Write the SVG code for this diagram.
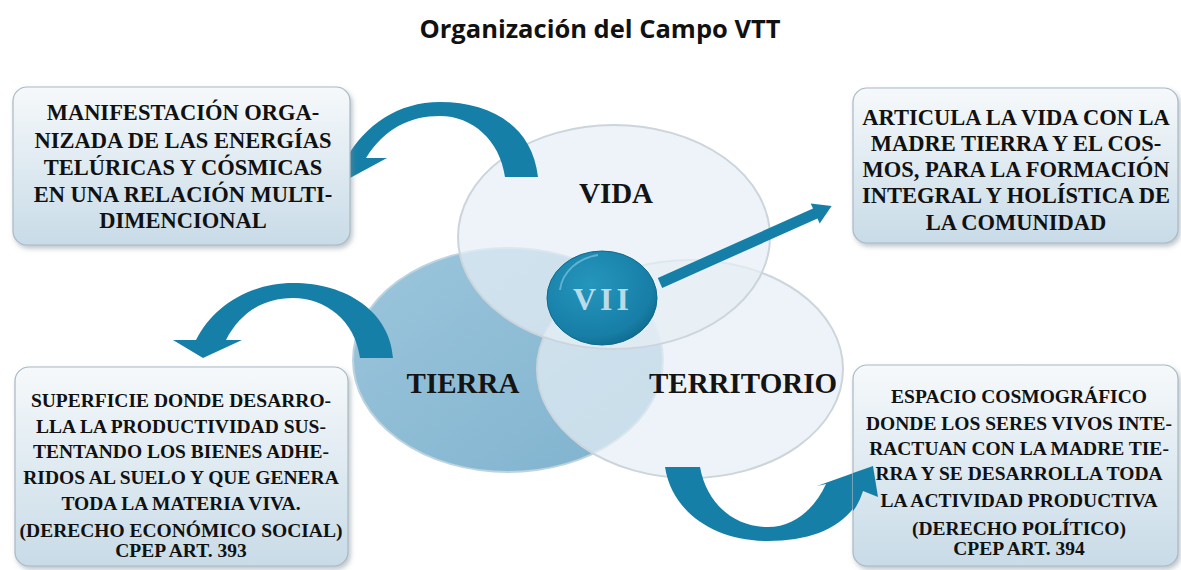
<svg xmlns="http://www.w3.org/2000/svg" width="1181" height="570" viewBox="0 0 1181 570">
<style>
.title{font-family:"Open Sans","Liberation Sans",sans-serif;font-weight:bold;font-size:25.5px;fill:#111;text-anchor:middle}
.bt{font-family:"Liberation Serif","DejaVu Serif",serif;font-weight:bold;fill:#111;text-anchor:middle}
.big{font-size:22.5px}
.small{font-size:19.5px}
.lab{font-family:"Liberation Serif","DejaVu Serif",serif;font-weight:bold;font-size:29px;fill:#141414;text-anchor:middle}
.box{fill:url(#boxg);stroke:#a9bac5;stroke-width:1.2;filter:url(#sh)}
.arrow{fill:#167fa7}
.light{fill:#e6eff5;fill-opacity:0.72;stroke:#ccd5db;stroke-width:2}
</style>
<defs>
<linearGradient id="boxg" x1="0" y1="0" x2="0" y2="1">
<stop offset="0" stop-color="#f6f9fb"/>
<stop offset="1" stop-color="#c8dbe7"/>
</linearGradient>
<linearGradient id="tierg" x1="0" y1="0" x2="1" y2="1">
<stop offset="0" stop-color="#9cc6dc"/>
<stop offset="1" stop-color="#7fb2ce"/>
</linearGradient>
<radialGradient id="cg" cx="0.4" cy="0.35" r="0.7">
<stop offset="0" stop-color="#2596bd"/>
<stop offset="0.8" stop-color="#177ea6"/>
<stop offset="1" stop-color="#0f6a8e"/>
</radialGradient>
<filter id="sh" x="-10%" y="-10%" width="125%" height="125%">
<feDropShadow dx="2" dy="3" stdDeviation="2.5" flood-color="#7d8b94" flood-opacity="0.5"/>
</filter>
</defs>
<rect width="1181" height="570" fill="#ffffff"/>
<text class="title" x="600" y="38">Organización del Campo VTT</text>

<g id="tierra">
<ellipse cx="508" cy="360" rx="155" ry="112" fill="url(#tierg)" stroke="#bcd3e0" stroke-width="2"/>
</g>
<g id="territorio">
<ellipse class="light" cx="690" cy="369" rx="153" ry="109"/>
</g>
<g id="vida">
<ellipse class="light" cx="614" cy="237" rx="156" ry="112"/>
</g>
<g id="labels">
<text class="lab" x="616" y="203">VIDA</text>
<text class="lab" x="463" y="393">TIERRA</text>
<text class="lab" x="743" y="393">TERRITORIO</text>
</g>

<g id="connectors">
<path class="arrow" d="M538,177 C532,125 490,102 440,102 C398,102 365,125 346,159 L320,162 L350,178 L387,158 L366,158 C385,128 410,116 440,116 C472,116 500,140 505,177 Z"/>
<path class="arrow" d="M393,358 C390,312 347,283 293,283 C250,283 213,306 196,340 L173,340 L203,358 L242,340 L226,340 C240,313 263,298 293,298 C325,298 355,320 360,358 Z"/>
<path class="arrow" d="M657.8,278 L813,208.5 L810.7,203.5 L831.6,206.1 L819.7,223.5 L817.5,218.5 L662.2,288 Z"/>
<path class="arrow" d="M665,467 L700,467 C707,505 735,527 768,527 C795,527 815,508 826,484 L817,486 L873,466 L878,497 L863,491 C850,525 815,541 768,541 C714,541 672,512 665,467 Z"/>
</g>

<g id="center">
<ellipse cx="602" cy="298" rx="55" ry="47" fill="url(#cg)" stroke="#0f6a8e" stroke-width="1"/>
<path d="M560,290 C562,272 578,258 598,255" fill="none" stroke="#7cc3de" stroke-width="2" stroke-opacity="0.7"/>
<text x="603" y="310" font-family="Liberation Serif, serif" font-weight="bold" font-size="32" fill="#d9eaf2" fill-opacity="0.85" text-anchor="middle" letter-spacing="4">VII</text>
</g>

<g id="box-tl">
<rect class="box" x="13" y="87" width="337" height="158" rx="14"/>
<text class="bt big" x="183"><tspan x="183" y="120">MANIFESTACIÓN ORGA-</tspan><tspan x="183" y="148">NIZADA DE LAS ENERGÍAS</tspan><tspan x="183" y="175">TELÚRICAS Y CÓSMICAS</tspan><tspan x="183" y="202">EN UNA RELACIÓN MULTI-</tspan><tspan x="183" y="228">DIMENCIONAL</tspan></text>
</g>
<g id="box-tr">
<rect class="box" x="853" y="88" width="325" height="155" rx="14"/>
<text class="bt big" x="1016"><tspan x="1016" y="125">ARTICULA LA VIDA CON LA</tspan><tspan x="1016" y="151">MADRE TIERRA Y EL COS-</tspan><tspan x="1016" y="177">MOS, PARA LA FORMACIÓN</tspan><tspan x="1016" y="203">INTEGRAL Y HOLÍSTICA DE</tspan><tspan x="1016" y="230">LA COMUNIDAD</tspan></text>
</g>
<g id="box-bl">
<rect class="box" x="15" y="367" width="333" height="199" rx="14"/>
<text class="bt small" x="181"><tspan x="181" y="407">SUPERFICIE DONDE DESARRO-</tspan><tspan x="181" y="433">LLA LA PRODUCTIVIDAD SUS-</tspan><tspan x="181" y="458">TENTANDO LOS BIENES ADHE-</tspan><tspan x="181" y="484">RIDOS AL SUELO Y QUE GENERA</tspan><tspan x="181" y="510">TODA LA MATERIA VIVA.</tspan><tspan x="181" y="537">(DERECHO ECONÓMICO SOCIAL)</tspan><tspan x="181" y="557">CPEP ART. 393</tspan></text>
</g>
<g id="box-br">
<rect class="box" x="853" y="365" width="325" height="201" rx="14"/>
<text class="bt small" x="1019"><tspan x="1019" y="403">ESPACIO COSMOGRÁFICO</tspan><tspan x="1019" y="430">DONDE LOS SERES VIVOS INTE-</tspan><tspan x="1019" y="455">RACTUAN CON LA MADRE TIE-</tspan><tspan x="1019" y="480">RRA Y SE DESARROLLA TODA</tspan><tspan x="1019" y="507">LA ACTIVIDAD PRODUCTIVA</tspan><tspan x="1019" y="535">(DERECHO POLÍTICO)</tspan><tspan x="1019" y="555">CPEP ART. 394</tspan></text>
</g>
<path class="arrow" d="M853,473 L873,466 L878,497 L863,491 C860,500 857,506 853,511 Z"/>
</svg>
